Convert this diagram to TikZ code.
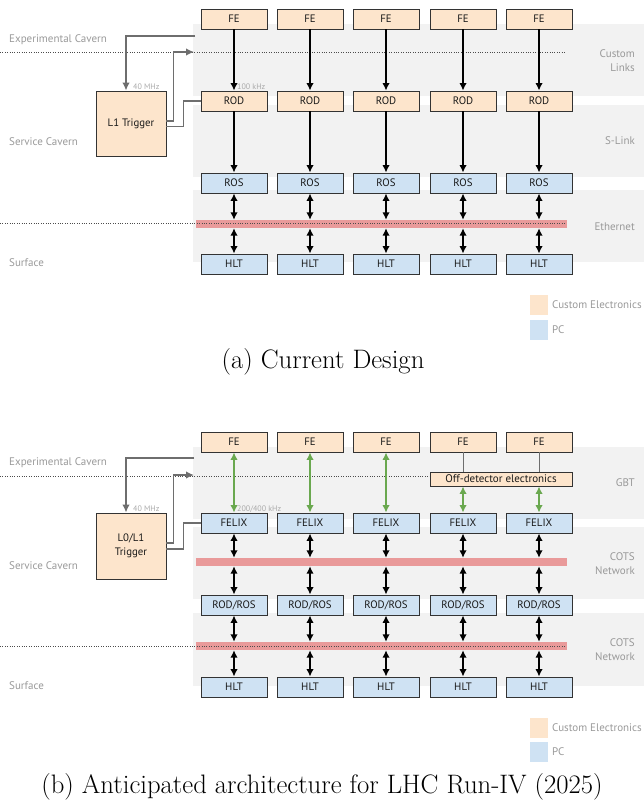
\documentclass[tikz,border=0pt]{standalone}
\usepackage{fontspec}
\setmainfont{PT Sans}
\usetikzlibrary{arrows.meta}
\newfontfamily\capfont{Latin Modern Roman}
\definecolor{orangefill}{HTML}{FDE5CC}
\definecolor{bluefill}{HTML}{CFE2F3}
\definecolor{bandgray}{HTML}{F2F2F2}
\definecolor{redbar}{HTML}{E99A9A}
\definecolor{labgray}{HTML}{999999}
\definecolor{smallgray}{HTML}{AAAAAA}
\definecolor{arrgray}{HTML}{6E6E6E}
\definecolor{greenarr}{HTML}{6AA84F}
\definecolor{boxline}{HTML}{333333}
\tikzset{
  box/.style={draw=boxline, line width=0.9pt, minimum width=66pt, minimum height=20pt, inner sep=0pt, font=\fontsize{10.8}{12}\selectfont, text=black!90},
  ob/.style={box, fill=orangefill},
  bb/.style={box, fill=bluefill},
  band/.style={fill=bandgray, draw=none},
  rbar/.style={fill=redbar, draw=none, minimum width=371pt, minimum height=8pt, inner sep=0pt},
  dotline/.style={draw=black!70, line width=0.7pt, dash pattern=on 0.8pt off 1.6pt},
  blk/.style={draw=black, line width=1.6pt, {Latex[length=7.5pt,width=7.5pt]}-{Latex[length=7.5pt,width=7.5pt]}},
  blkone/.style={draw=black, line width=1.6pt, -{Latex[length=7.5pt,width=7.5pt]}},
  grn/.style={draw=greenarr, line width=1.6pt, {Latex[length=7.5pt,width=7.5pt]}-{Latex[length=7.5pt,width=7.5pt]}},
  garr/.style={draw=arrgray, line width=1.5pt},
  gtip/.style={garr, -{Latex[length=8pt,width=7.5pt]}},
  leftlab/.style={anchor=west, text=labgray, font=\fontsize{11}{12}\selectfont, inner sep=0pt},
  rightlab/.style={anchor=east, text=labgray, font=\fontsize{11}{14}\selectfont, align=right, inner sep=0pt},
  small/.style={anchor=west, text=smallgray, font=\fontsize{8}{9}\selectfont, inner sep=0pt},
  legsq/.style={draw=none, minimum width=18pt, minimum height=20pt, inner sep=0pt},
  legtxt/.style={anchor=west, text=labgray, font=\fontsize{11}{12}\selectfont, inner sep=0pt},
  capt/.style={font=\capfont\fontsize{26.7}{30}\selectfont, inner sep=0pt}
}
\begin{document}
\begin{tikzpicture}[x=1pt,y=-1pt]
\useasboundingbox (0,0) rectangle (644,800);
% ================= TOP PANEL =================
\fill[band] (193,24) rectangle (644,96);
\fill[band] (193,105) rectangle (644,177);
\fill[band] (193,190) rectangle (644,262);
\node[rbar] (rbA) at (381.5,224) {};
\draw[dotline] (0,52) -- (566,52);
\draw[dotline] (0,223.5) -- (566,223.5);

\node[leftlab] (lA1) at (9,40) {Experimental Cavern};
\node[leftlab] (lA2) at (9,142) {Service Cavern};
\node[leftlab] (lA3) at (9,263) {Surface};
\node[rightlab] (rA1) at (635,61) {Custom\\Links};
\node[rightlab] (rA2) at (635,141) {S-Link};
\node[rightlab] (rA3) at (635,227) {Ethernet};

\foreach \i/\x in {1/234,2/310,3/386,4/463,5/539}{
  \node[ob] (feA\i) at (\x,19) {FE};
  \node[ob] (rodA\i) at (\x,101) {ROD};
  \node[bb] (rosA\i) at (\x,183) {ROS};
  \node[bb] (hltA\i) at (\x,264) {HLT};
  \draw[blkone] (feA\i) -- (rodA\i);
  \draw[blkone] (rodA\i) -- (rosA\i);
  \draw[blk] (rosA\i.south) -- (rosA\i.south |- rbA.north);
  \draw[blk] (hltA\i.north |- rbA.south) -- (hltA\i.north);
}

\node[ob, minimum width=70pt, minimum height=65pt] (trigA) at (131,123.5) {L1 Trigger};
\coordinate (cA1) at (195,36);
\coordinate (cA2) at (194,52);
\draw[gtip] (cA1) -| ([xshift=-5pt]trigA.north);
\draw[gtip] ([yshift=2.5pt]trigA.east) -- ++(7,0) |- (cA2);
\draw[garr] ([yshift=-3pt]trigA.east) -- ++(17,0) |- (rodA1.west);
\node[small] (fA1) at (133,87) {40 MHz};
\node[small] (fA2) at (237,87) {100 kHz};

\node[legsq, fill=orangefill] (lgA1) at (539,305) {};
\node[legsq, fill=bluefill] (lgA2) at (539,330) {};
\node[legtxt] (ltA1) at (552,305) {Custom Electronics};
\node[legtxt] (ltA2) at (552,330) {PC};

\node[capt] (capA) at (323,362) {(a) Current Design};

% ================= BOTTOM PANEL =================
\fill[band] (193,447) rectangle (644,519);
\fill[band] (193,527) rectangle (644,599);
\fill[band] (193,613) rectangle (644,686);
\node[rbar] (rbB1) at (381.5,562) {};
\node[rbar] (rbB2) at (381.5,646) {};
\draw[dotline] (0,476) -- (566,476);
\draw[dotline] (0,646) -- (566,646);

\node[leftlab] (lB1) at (9,463) {Experimental Cavern};
\node[leftlab] (lB2) at (9,566) {Service Cavern};
\node[leftlab] (lB3) at (9,686) {Surface};
\node[rightlab] (rB1) at (635,483) {GBT};
\node[rightlab] (rB2) at (635,564) {COTS\\Network};
\node[rightlab] (rB3) at (635,650) {COTS\\Network};

\node[ob, minimum width=142pt, minimum height=14pt, font=\fontsize{11}{12}\selectfont] (off) at (501,479) {Off-detector electronics};

\foreach \i/\x in {1/234,2/310,3/386,4/463,5/539}{
  \node[ob] (feB\i) at (\x,442) {FE};
  \node[bb] (flxB\i) at (\x,523) {FELIX};
  \node[bb] (rrB\i) at (\x,605) {ROD/ROS};
  \node[bb] (hltB\i) at (\x,687) {HLT};
  \draw[blk] (flxB\i.south) -- (flxB\i.south |- rbB1.north);
  \draw[blk] (rrB\i.north |- rbB1.south) -- (rrB\i.north);
  \draw[blk] (rrB\i.south) -- (rrB\i.south |- rbB2.north);
  \draw[blk] (hltB\i.north |- rbB2.south) -- (hltB\i.north);
}
\foreach \i in {1,2,3}{
  \draw[grn] (feB\i) -- (flxB\i);
}
\foreach \i in {4,5}{
  \draw[draw=arrgray, line width=1pt] (feB\i.south) -- (feB\i.south |- off.north);
  \draw[grn] (flxB\i.north |- off.south) -- (flxB\i.north);
}

\node[ob, minimum width=70pt, minimum height=66pt, align=center, font=\fontsize{10.8}{14}\selectfont] (trigB) at (131,546) {L0/L1\\Trigger};
\coordinate (cB1) at (194,458);
\coordinate (cB2) at (194,475);
\draw[gtip] (cB1) -| ([xshift=-5pt]trigB.north);
\draw[gtip] ([yshift=3pt]trigB.east) -- ++(7,0) |- (cB2);
\draw[garr] ([yshift=-3pt]trigB.east) -- ++(17,0) |- (flxB1.west);
\node[small] (fB1) at (133,509) {40 MHz};
\node[small] (fB2) at (237,509) {200/400 kHz};

\node[legsq, fill=orangefill] (lgB1) at (539,728) {};
\node[legsq, fill=bluefill] (lgB2) at (539,752) {};
\node[legtxt] (ltB1) at (552,728) {Custom Electronics};
\node[legtxt] (ltB2) at (552,752) {PC};

\node[capt] (capB) at (322,787) {(b) Anticipated architecture for LHC Run-IV (2025)};
\end{tikzpicture}
\end{document}
